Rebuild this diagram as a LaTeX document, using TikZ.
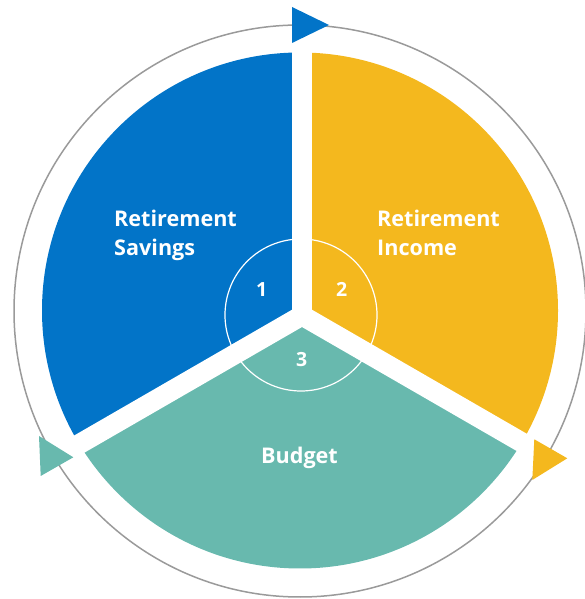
\documentclass[tikz,border=0pt]{standalone}
\usepackage{fontspec}
\setmainfont{Open Sans}
\definecolor{cblue}{HTML}{0274C8}
\definecolor{cyellow}{HTML}{F4B81E}
\definecolor{cteal}{HTML}{68B9AE}
\definecolor{cring}{HTML}{9A9A9A}
\tikzset{
  label/.style={text=white, font=\bfseries\fontsize{21.6}{29}\selectfont, inner sep=0pt},
  numlabel/.style={text=white, font=\bfseries\fontsize{19.5}{22}\selectfont, inner sep=0pt, anchor=base},
  gap/.style={white, line width=20pt},
}
\begin{document}
\begin{tikzpicture}[x=1pt, y=1pt]
  \useasboundingbox (0,0) rectangle (585,599);
  \coordinate (C) at (300,288.5);
  \coordinate (J) at (302,283.5);
  \coordinate (H) at (301,284);

  % outer ring
  \draw[cring, line width=1.5pt] (300,288) circle (286);

  % the three coloured sectors
  \begin{scope}
    \clip (C) circle (258);
    \fill[cblue]   (J) -- +(90:400)  -- +(150:400) -- +(210:400) -- cycle;
    \fill[cyellow] (J) -- +(-30:400) -- +(30:400)  -- +(90:400)  -- cycle;
    \fill[cteal]   (J) -- +(210:400) -- +(270:400) -- +(330:400) -- cycle;
  \end{scope}

  % thin inner circle
  \draw[white, line width=1.2pt] (H) circle (76);

  % white separators
  \draw[gap] (J) -- +(90:275);
  \draw[gap] (J) -- +(210:275);
  \draw[gap] (J) -- +(330:275);

  % arrow heads on the ring
  \fill[cblue]   (292,592) -- (292,556) -- (329,574) -- cycle;
  \fill[cyellow] (534.3,159.7) -- (532.3,119) -- (567.3,140.7) -- cycle;
  \fill[cteal]   (39,163) -- (40.7,123) -- (73.3,141.7) -- cycle;

  % labels
  \node[label, anchor=base west] (sav1) at (114,372.3) {Retirement};
  \node[label, anchor=base west] (sav2) at (114,343.3) {Savings};
  \node[label, anchor=base west] (inc1) at (377,372.3) {Retirement};
  \node[label, anchor=base west] (inc2) at (377,343.3) {Income};
  \node[label, anchor=base] (bud) at (299.5,135) {Budget};

  \node[numlabel] (n1) at (261.7,302) {1};
  \node[numlabel] (n2) at (341.7,302) {2};
  \node[numlabel] (n3) at (301.7,232) {3};
\end{tikzpicture}
\end{document}
